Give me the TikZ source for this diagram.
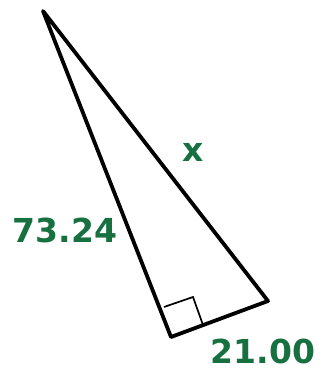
\documentclass[tikz,border=0pt]{standalone}
\usepackage{fontspec}
\setmainfont{DejaVu Sans}
\definecolor{lblgreen}{HTML}{17703F}
\begin{document}
\begin{tikzpicture}[x=1pt,y=-1pt,
  side/.style={line width=3.8pt,line join=round,line cap=round},
  rtmark/.style={line width=1.7pt},
  lbl/.style={text=lblgreen,font=\fontsize{33}{33}\selectfont\bfseries,inner sep=0pt}]
\useasboundingbox (0,0) rectangle (323,369);
\coordinate (A) at (43,11);
\coordinate (B) at (171,337);
\coordinate (C) at (268,301);
\draw[side] (A) -- (B) -- (C) -- cycle;
\coordinate (P1) at (164,307);
\coordinate (P2) at (193,297);
\coordinate (P3) at (203,325);
\draw[rtmark] (P1) -- (P2) -- (P3);
\node[lbl] (x) at (193,152) {x};
\node[lbl] (l1) at (65,230) {73.24};
\node[lbl] (l2) at (263,351) {21.00};
\end{tikzpicture}
\end{document}
